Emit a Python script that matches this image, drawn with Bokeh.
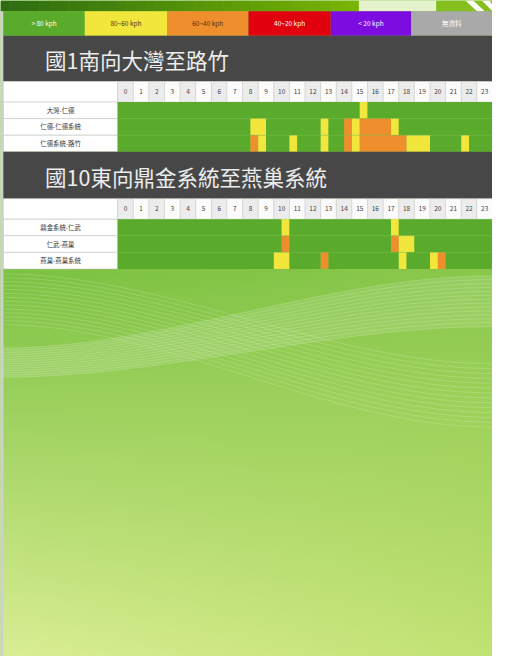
import numpy as np
from bokeh.plotting import figure
from bokeh.models import Range1d
from bokeh.core.properties import value
from bokeh.embed import file_html
from bokeh.resources import INLINE

# ---------------- data ----------------
hours = [str(h) for h in range(24)]
speed_classes = ["> 80 kph", "80~60 kph", "60~40 kph", "40~20 kph", "< 20 kph", "無資料"]
class_colors = ["#5aaa2c", "#f1e63c", "#ee8e2c", "#e0000e", "#7c0ce0", "#a9a9a9"]
legend_text_colors = ["#ffffff", "#4a4020", "#5a3010", "#ffffff", "#ffffff", "#ffffff"]

title1 = "國1南向大灣至路竹"
rows1 = ["大灣-仁德", "仁德-仁德系統", "仁德系統-路竹"]
# speed class per half hour (48 slots, 0:00 .. 23:30)
codes1 = [
    "00000000" "00000000" "00000000" "00000001" "00000000" "00000000",
    "00000000" "00000000" "01100000" "00100212" "22210000" "00000000",
    "00000000" "00000000" "02100010" "00100212" "22222111" "00001000",
]

title2 = "國10東向鼎金系統至燕巢系統"
rows2 = ["鼎金系統-仁武", "仁武-燕巢", "燕巢-燕巢系統"]
codes2 = [
    "00000000" "00000000" "00000100" "00000000" "00010000" "00000000",
    "00000000" "00000000" "00000200" "00000000" "00021100" "00000000",
    "00000000" "00000000" "00001100" "00200000" "00001000" "12000000",
]

# ---------------- layout (reference pixel units) ----------------
REF_W, REF_H = 508, 672
GRID_X0, COL_W = 121.0, 16.125
LABEL_X0 = 3.0
ROW_H = 17.0
SECTIONS = [  # band_top, header_top, rows_top
    (36.0, 83.0, 104.0),
    (155.0, 203.0, 224.0),
]
FONT = value("Noto Sans CJK TC")


def hx(px):
    return (px - GRID_X0) / COL_W


W, H = 492, 656
p = figure(width=W, height=H, x_range=Range1d(hx(0), hx(REF_W)),
           y_range=Range1d(REF_H, 0), output_backend="svg",
           toolbar_location=None, min_border=0)
p.axis.visible = False
p.grid.visible = False
p.outline_line_color = None
p.background_fill_color = "#80c346"
p.border_fill_color = "#80c346"

# ---- bottom gradient background ----
ny, nx = 120, 64
ty = np.linspace(0, 1, ny)[:, None]
tx = np.linspace(0, 1, nx)[None, :]
tl = np.array([0x7c, 0xc2, 0x42]); tr = np.array([0x8a, 0xc8, 0x4c])
bl = np.array([0xda, 0xee, 0x94]); br = np.array([0xc2, 0xe2, 0x74])
col = ((1 - ty)[..., None] * ((1 - tx)[..., None] * tl + tx[..., None] * tr)
       + ty[..., None] * ((1 - tx)[..., None] * bl + tx[..., None] * br))
img = np.empty((ny, nx), dtype=np.uint32)
view = img.view(dtype=np.uint8).reshape((ny, nx, 4))
view[..., 0] = col[..., 0]
view[..., 1] = col[..., 1]
view[..., 2] = col[..., 2]
view[..., 3] = 255
p.image_rgba(image=[img], x=hx(0), y=275, dw=hx(REF_W) - hx(0), dh=REF_H - 275)

# ---- waves ----
xs_px = np.linspace(0, REF_W, 80)
t = xs_px / REF_W
s = t * t * (3 - 2 * t)
xa, ya = [], []
for k in range(14):
    y0 = 280 + k * 4
    y1 = 372 + k * 5
    xa.append(list(hx(xs_px)))
    ya.append(list(y0 + (y1 - y0) * s))
p.multi_line(xa, ya, line_color="white", line_alpha=0.22, line_width=0.8)
xb, yb = [], []
for k in range(14):
    y0 = 356 + k * 2.3
    y1 = 282 + k * 4
    xb.append(list(hx(xs_px)))
    yb.append(list(y0 + (y1 - y0) * s))
p.multi_line(xb, yb, line_color="white", line_alpha=0.22, line_width=0.8)
p.patch(list(hx(xs_px)) + list(hx(xs_px[::-1])),
        list(yb[0]) + list(yb[-1][::-1]), fill_color="white", fill_alpha=0.10,
        line_color=None)

# ---- top banner ----
bx = np.linspace(0, 370, 38)
c0 = np.array([0x2e, 0x6c, 0x12]); c1 = np.array([0x78, 0xb4, 0x02])
bcols = []
for i in range(len(bx) - 1):
    f = i / (len(bx) - 2)
    c = (1 - f) * c0 + f * c1
    bcols.append("#%02x%02x%02x" % tuple(int(v) for v in c))
p.quad(left=hx(bx[:-1]), right=hx(bx[1:]) + 0.02, top=0, bottom=11,
       fill_color=bcols, line_color=None)
p.quad(left=hx(370), right=hx(450), top=0, bottom=11, fill_color="#e6f2cc", line_color=None)
p.quad(left=hx(450), right=hx(508), top=0, bottom=11, fill_color="#84bf1e", line_color=None)
p.patches([[hx(480), hx(488), hx(500), hx(492)], [hx(497), hx(505), hx(512), hx(508)]],
          [[0, 0, 11, 11], [0, 0, 11, 11]], fill_color="white", line_color=None)

# ---- left gray strip ----
p.quad(left=hx(0), right=hx(LABEL_X0), top=11, bottom=REF_H, fill_color="#cfcfcf",
       line_color=None)

# ---- legend ----
edges = [3, 87, 172, 256, 341, 424, 508]
p.quad(left=[hx(e) for e in edges[:-1]], right=[hx(e) for e in edges[1:]],
       top=11, bottom=36, fill_color=class_colors, line_color=None)
p.text(x=[hx((a + b) / 2) for a, b in zip(edges[:-1], edges[1:])], y=[23.5] * 6,
       text=speed_classes, text_color=legend_text_colors, text_font=FONT,
       text_font_size=value("6.5px"), text_align="center", text_baseline="middle")

# ---- sections ----
for (band_top, header_top, rows_top), title, rows, codes in zip(
        SECTIONS, [title1, title2], [rows1, rows2], [codes1, codes2]):
    # dark title band
    p.quad(left=hx(LABEL_X0), right=hx(REF_W), top=band_top, bottom=header_top,
           fill_color="#474747", line_color=None)
    p.text(x=[hx(46)], y=[(band_top + header_top) / 2 + 1], text=[title],
           text_color="#ececec", text_font=FONT, text_font_size=value("21.5px"),
           text_align="left", text_baseline="middle")
    # header row
    p.quad(left=hx(LABEL_X0), right=0, top=header_top, bottom=rows_top,
           fill_color="white", line_color="#d4d4d4", line_width=0.6)
    hcols = ["#ececec" if i % 2 == 0 else "#fbfbfb" for i in range(24)]
    p.quad(left=list(range(24)), right=[i + 1 for i in range(24)], top=header_top,
           bottom=rows_top, fill_color=hcols, line_color="#d4d4d4", line_width=0.6)
    p.text(x=[i + 0.5 for i in range(24)], y=[(header_top + rows_top) / 2] * 24,
           text=hours, text_color="#444444", text_font=FONT,
           text_font_size=value("6.5px"), text_align="center", text_baseline="middle")
    # label cells
    tops = [rows_top + i * ROW_H for i in range(len(rows))]
    p.quad(left=hx(LABEL_X0), right=0, top=tops, bottom=[t_ + ROW_H for t_ in tops],
           fill_color="white", line_color="#c8c8c8", line_width=0.6)
    p.text(x=[hx(62)] * len(rows), y=[t_ + ROW_H / 2 for t_ in tops], text=rows,
           text_color="#333333", text_font=FONT, text_font_size=value("6.4px"),
           text_align="center", text_baseline="middle")
    # data cells: merge consecutive half-hour slots of the same class
    L, R, T, B, C = [], [], [], [], []
    for r, code in enumerate(codes):
        start = 0
        for i in range(1, len(code) + 1):
            if i == len(code) or code[i] != code[start]:
                L.append(start / 2)
                R.append(i / 2)
                T.append(tops[r])
                B.append(tops[r] + ROW_H)
                C.append(class_colors[int(code[start])])
                start = i
    p.quad(left=L, right=R, top=T, bottom=B, fill_color=C, line_color=None)
    # faint row separators
    p.segment(x0=[0] * (len(rows) - 1), x1=[24] * (len(rows) - 1),
              y0=tops[1:], y1=tops[1:], line_color="#7dbf58", line_alpha=0.5,
              line_width=0.8)

open("out.html", "w").write(file_html(p, INLINE))
